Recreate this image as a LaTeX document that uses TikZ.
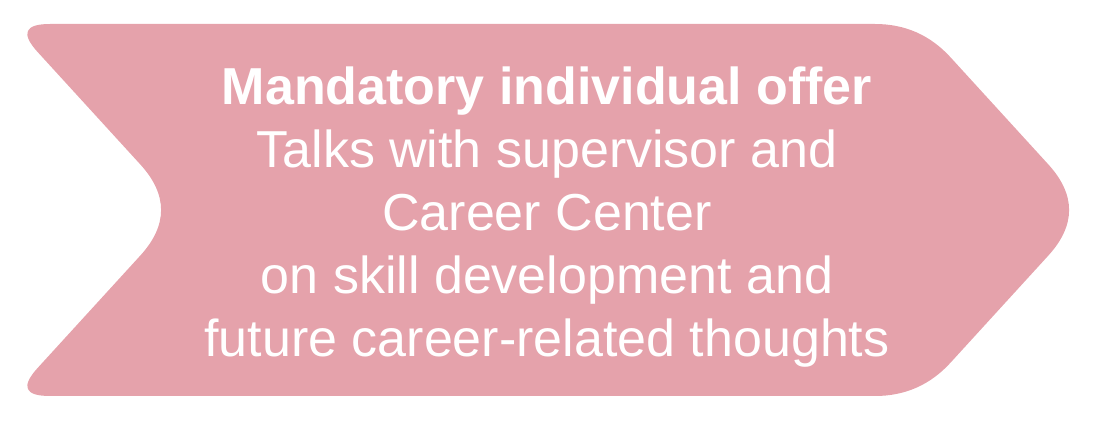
\documentclass[tikz,border=0pt]{standalone}
\usepackage{fontspec}
\setmainfont{Liberation Sans}
\usetikzlibrary{calc}
\definecolor{chevronpink}{RGB}{229,162,171}
\tikzset{
  chevron/.style={fill=chevronpink, draw=none},
  chevrontext/.style={text=white, align=center, inner sep=0pt,
    font=\fontsize{52}{63}\selectfont}
}
\begin{document}
\begin{tikzpicture}[x=1pt,y=-1pt]
\useasboundingbox (0,0) rectangle (1095,427);
% sharp vertices
\coordinate (A) at (12,24);
\coordinate (B) at (920,24);
\coordinate (C) at (1090,210);
\coordinate (D) at (920,396);
\coordinate (E) at (12,396);
\coordinate (F) at (182,210);
% cut points for rounding
\coordinate (A1) at (50,24);
\coordinate (B0) at (875,24);
\coordinate (B1) at (950.4,57.2);
\coordinate (C0) at (1048.15,164.24);
\coordinate (C1) at (1048.15,255.76);
\coordinate (D0) at (950.4,362.8);
\coordinate (D1) at (875,396);
\coordinate (E0) at (50,396);
\coordinate (E1) at (37.65,367.96);
\coordinate (F0) at (140.15,255.76);
\coordinate (F1) at (140.15,164.24);
\coordinate (A0) at (37.65,52.04);
\fill[chevron] (A1) -- (B0)
  .. controls ($(B0)!0.667!(B)$) and ($(B1)!0.667!(B)$) .. (B1) -- (C0)
  .. controls ($(C0)!0.667!(C)$) and ($(C1)!0.667!(C)$) .. (C1) -- (D0)
  .. controls ($(D0)!0.667!(D)$) and ($(D1)!0.667!(D)$) .. (D1) -- (E0)
  .. controls ($(E0)!0.667!(E)$) and ($(E1)!0.667!(E)$) .. (E1) -- (F0)
  .. controls ($(F0)!0.667!(F)$) and ($(F1)!0.667!(F)$) .. (F1) -- (A0)
  .. controls ($(A0)!0.667!(A)$) and ($(A1)!0.667!(A)$) .. (A1) -- cycle;
\node[chevrontext, anchor=base] (label) at (547,357)
  {\textbf{Mandatory individual offer}\\
   Talks with supervisor and\\
   Career Center\\
   on skill development and\\
   future career-related thoughts};
\end{tikzpicture}
\end{document}
